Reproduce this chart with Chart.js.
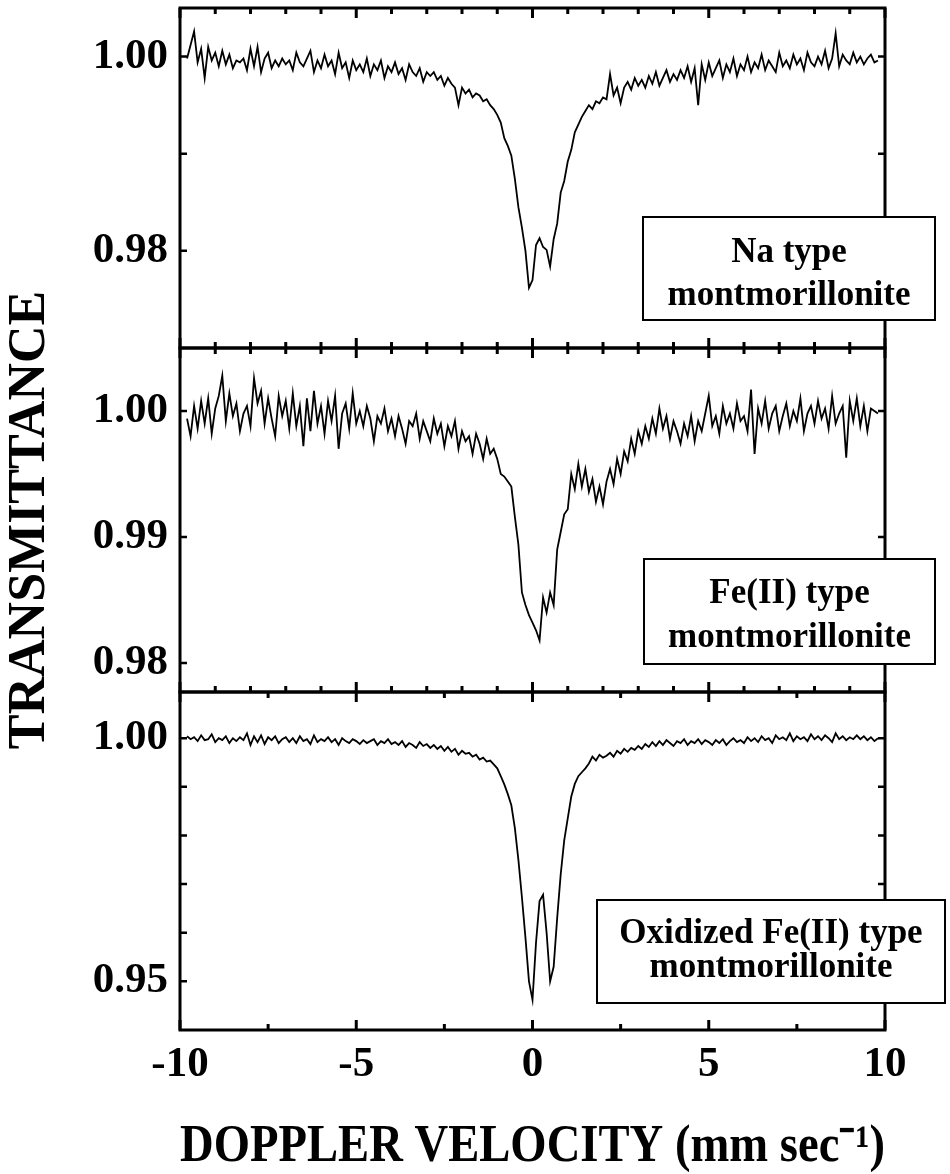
<!DOCTYPE html>
<html>
<head>
<meta charset="utf-8">
<script src="https://cdn.jsdelivr.net/npm/chart.js@4.4.1/dist/chart.umd.min.js"></script>
<style>
  html, body { margin: 0; padding: 0; background: #fff; }
  #wrap { position: relative; width: 950px; height: 1174px; }
  #wrap canvas { position: absolute; left: 0; top: 0; }
</style>
</head>
<body>
<div id="wrap">
  <canvas id="naChart" width="950" height="1174"></canvas>
  <canvas id="feChart" width="950" height="1174"></canvas>
  <canvas id="oxChart" width="950" height="1174"></canvas>
</div>
<script>
// Doppler velocity channels (mm/s)
var velocity = [
  -9.8, -9.7, -9.6, -9.5, -9.4, -9.3, -9.2, -9.1, -9.0, -8.9,
  -8.8, -8.7, -8.6, -8.5, -8.4, -8.3, -8.2, -8.1, -8.0, -7.9,
  -7.8, -7.7, -7.6, -7.5, -7.4, -7.3, -7.2, -7.1, -7.0, -6.9,
  -6.8, -6.7, -6.6, -6.5, -6.4, -6.3, -6.2, -6.1, -6.0, -5.9,
  -5.8, -5.7, -5.6, -5.5, -5.4, -5.3, -5.2, -5.1, -5.0, -4.9,
  -4.8, -4.7, -4.6, -4.5, -4.4, -4.3, -4.2, -4.1, -4.0, -3.9,
  -3.8, -3.7, -3.6, -3.5, -3.4, -3.3, -3.2, -3.1, -3.0, -2.9,
  -2.8, -2.7, -2.6, -2.5, -2.4, -2.3, -2.2, -2.1, -2.0, -1.9,
  -1.8, -1.7, -1.6, -1.5, -1.4, -1.3, -1.2, -1.1, -1.0, -0.9,
  -0.8, -0.7, -0.6, -0.5, -0.4, -0.3, -0.2, -0.1, 0.0, 0.1,
  0.2, 0.3, 0.4, 0.5, 0.6, 0.7, 0.8, 0.9, 1.0, 1.1,
  1.2, 1.3, 1.4, 1.5, 1.6, 1.7, 1.8, 1.9, 2.0, 2.1,
  2.2, 2.3, 2.4, 2.5, 2.6, 2.7, 2.8, 2.9, 3.0, 3.1,
  3.2, 3.3, 3.4, 3.5, 3.6, 3.7, 3.8, 3.9, 4.0, 4.1,
  4.2, 4.3, 4.4, 4.5, 4.6, 4.7, 4.8, 4.9, 5.0, 5.1,
  5.2, 5.3, 5.4, 5.5, 5.6, 5.7, 5.8, 5.9, 6.0, 6.1,
  6.2, 6.3, 6.4, 6.5, 6.6, 6.7, 6.8, 6.9, 7.0, 7.1,
  7.2, 7.3, 7.4, 7.5, 7.6, 7.7, 7.8, 7.9, 8.0, 8.1,
  8.2, 8.3, 8.4, 8.5, 8.6, 8.7, 8.8, 8.9, 9.0, 9.1,
  9.2, 9.3, 9.4, 9.5, 9.6, 9.7, 9.8
];

// Na type montmorillonite
var naTransmittance = [
  0.9998, 1.0012, 1.0026, 0.9994, 1.0008, 0.9978, 1.0010, 0.9996, 1.0004, 0.9990,
  1.0006, 0.9992, 1.0002, 0.9988, 0.9996, 0.9994, 0.9998, 0.9986, 1.0008, 0.9990,
  1.0010, 0.9984, 0.9998, 1.0004, 0.9988, 0.9996, 0.9990, 0.9998, 0.9992, 0.9996,
  0.9986, 1.0004, 0.9994, 0.9990, 0.9998, 1.0006, 0.9984, 0.9996, 0.9988, 1.0002,
  0.9990, 0.9996, 0.9982, 1.0004, 0.9988, 0.9994, 0.9978, 0.9996, 0.9986, 0.9992,
  0.9984, 0.9998, 0.9980, 0.9992, 0.9986, 0.9996, 0.9978, 0.9990, 0.9984, 0.9994,
  0.9982, 0.9988, 0.9976, 0.9992, 0.9984, 0.9980, 0.9988, 0.9974, 0.9984, 0.9980,
  0.9984, 0.9976, 0.9980, 0.9970, 0.9978, 0.9972, 0.9968, 0.9950, 0.9968, 0.9962,
  0.9966, 0.9958, 0.9962, 0.9960, 0.9954, 0.9956, 0.9950, 0.9946, 0.9940, 0.9932,
  0.9916, 0.9908, 0.9898, 0.9874, 0.9845, 0.9824, 0.9800, 0.9762, 0.9770, 0.9806,
  0.9813, 0.9804, 0.9801, 0.9784, 0.9812, 0.9828, 0.9860, 0.9872, 0.9892, 0.9904,
  0.9922, 0.9930, 0.9938, 0.9944, 0.9950, 0.9946, 0.9954, 0.9952, 0.9958, 0.9956,
  0.9982, 0.9960, 0.9968, 0.9952, 0.9968, 0.9974, 0.9966, 0.9978, 0.9970, 0.9976,
  0.9968, 0.9980, 0.9972, 0.9984, 0.9970, 0.9978, 0.9986, 0.9974, 0.9982, 0.9976,
  0.9986, 0.9978, 0.9990, 0.9974, 0.9988, 0.9950, 0.9992, 0.9976, 0.9994, 0.9980,
  0.9988, 0.9996, 0.9978, 0.9992, 0.9984, 0.9998, 0.9980, 0.9992, 0.9986, 1.0000,
  0.9984, 0.9994, 0.9988, 1.0002, 0.9986, 0.9996, 0.9990, 0.9984, 1.0004, 0.9990,
  0.9996, 0.9988, 1.0002, 0.9992, 0.9998, 0.9986, 1.0004, 0.9994, 0.9990, 1.0000,
  0.9992, 1.0006, 0.9988, 0.9998, 1.0024, 0.9990, 1.0002, 0.9996, 0.9992, 1.0004,
  0.9994, 1.0000, 0.9992, 0.9998, 1.0002, 0.9994, 0.9996
];

// Fe(II) type montmorillonite
var feTransmittance = [
  0.9994, 0.9980, 1.0004, 0.9986, 1.0008, 0.9990, 1.0010, 0.9982, 1.0002, 1.0012,
  1.0028, 0.9992, 1.0014, 0.9996, 1.0006, 0.9984, 0.9998, 1.0004, 0.9988, 1.0026,
  1.0006, 1.0016, 0.9990, 1.0010, 0.9994, 0.9980, 1.0012, 0.9996, 1.0008, 0.9986,
  1.0014, 0.9988, 1.0004, 0.9972, 1.0010, 0.9984, 1.0016, 0.9990, 1.0004, 0.9982,
  1.0008, 0.9992, 1.0012, 0.9970, 0.9998, 1.0006, 0.9986, 1.0014, 0.9990, 1.0000,
  0.9988, 1.0004, 0.9994, 0.9976, 0.9996, 0.9990, 1.0002, 0.9984, 0.9994, 0.9980,
  0.9996, 0.9986, 0.9974, 0.9992, 0.9988, 0.9998, 0.9978, 0.9992, 0.9984, 0.9976,
  0.9994, 0.9982, 0.9990, 0.9972, 0.9988, 0.9980, 0.9992, 0.9970, 0.9984, 0.9976,
  0.9980, 0.9966, 0.9982, 0.9974, 0.9962, 0.9978, 0.9966, 0.9970, 0.9962, 0.9950,
  0.9948, 0.9944, 0.9940, 0.9916, 0.9894, 0.9856, 0.9846, 0.9838, 0.9832, 0.9826,
  0.9818, 0.9852, 0.9840, 0.9856, 0.9846, 0.9890, 0.9904, 0.9918, 0.9922, 0.9950,
  0.9938, 0.9958, 0.9940, 0.9954, 0.9936, 0.9946, 0.9928, 0.9940, 0.9926, 0.9944,
  0.9954, 0.9942, 0.9962, 0.9950, 0.9968, 0.9960, 0.9978, 0.9966, 0.9984, 0.9974,
  0.9988, 0.9978, 0.9994, 0.9982, 1.0002, 0.9986, 0.9996, 0.9978, 0.9992, 0.9984,
  0.9974, 0.9990, 0.9980, 0.9996, 0.9976, 0.9992, 0.9984, 0.9998, 1.0012, 0.9988,
  0.9996, 0.9982, 1.0004, 0.9990, 0.9998, 0.9986, 1.0006, 0.9992, 0.9996, 0.9984,
  1.0017, 0.9966, 1.0002, 0.9990, 1.0008, 0.9986, 0.9998, 1.0004, 0.9984, 0.9996,
  1.0006, 0.9988, 1.0000, 0.9992, 1.0010, 0.9984, 0.9998, 1.0004, 0.9990, 1.0008,
  0.9994, 1.0002, 0.9986, 1.0012, 0.9990, 0.9998, 1.0004, 0.9963, 1.0008, 0.9992,
  1.0010, 0.9988, 1.0004, 0.9984, 1.0002, 1.0000, 0.9998
];

// Oxidized Fe(II) type montmorillonite
var oxTransmittance = [
  1.0004, 0.9998, 1.0002, 0.9994, 1.0006, 0.9996, 0.9998, 1.0008, 0.9992, 1.0000,
  0.9996, 1.0004, 0.9990, 1.0000, 0.9994, 1.0002, 0.9996, 1.0010, 0.9986, 1.0004,
  0.9992, 1.0006, 0.9988, 1.0002, 0.9996, 1.0004, 0.9990, 0.9998, 1.0002, 0.9992,
  1.0000, 0.9990, 1.0004, 0.9994, 0.9998, 0.9988, 1.0006, 0.9992, 0.9998, 0.9994,
  1.0002, 0.9992, 0.9998, 0.9986, 1.0000, 0.9994, 0.9990, 0.9998, 0.9994, 0.9988,
  0.9996, 0.9990, 0.9994, 0.9998, 0.9986, 0.9994, 0.9990, 0.9998, 0.9988, 0.9992,
  0.9986, 0.9994, 0.9982, 0.9990, 0.9986, 0.9980, 0.9992, 0.9984, 0.9988, 0.9980,
  0.9986, 0.9978, 0.9984, 0.9974, 0.9982, 0.9972, 0.9978, 0.9966, 0.9974, 0.9968,
  0.9970, 0.9962, 0.9966, 0.9956, 0.9960, 0.9952, 0.9954, 0.9946, 0.9938, 0.9922,
  0.9905, 0.9885, 0.9862, 0.9815, 0.9750, 0.9673, 0.9590, 0.9500, 0.9462, 0.9580,
  0.9665, 0.9678, 0.9600, 0.9500, 0.9530, 0.9630, 0.9720, 0.9790, 0.9835, 0.9880,
  0.9906, 0.9922, 0.9930, 0.9938, 0.9948, 0.9962, 0.9954, 0.9966, 0.9960, 0.9964,
  0.9970, 0.9962, 0.9974, 0.9968, 0.9978, 0.9972, 0.9980, 0.9976, 0.9984, 0.9978,
  0.9988, 0.9982, 0.9992, 0.9984, 0.9994, 0.9986, 0.9996, 0.9990, 0.9984, 0.9994,
  0.9990, 0.9998, 0.9986, 0.9994, 0.9990, 0.9998, 0.9988, 0.9996, 0.9992, 0.9986,
  0.9996, 0.9990, 0.9998, 0.9986, 0.9994, 1.0000, 0.9992, 0.9996, 0.9990, 1.0002,
  0.9994, 1.0000, 0.9992, 1.0004, 0.9996, 1.0000, 0.9990, 1.0006, 0.9998, 1.0002,
  0.9996, 1.0010, 0.9994, 1.0004, 0.9998, 1.0002, 0.9994, 1.0008, 0.9998, 1.0004,
  0.9996, 1.0006, 1.0000, 0.9992, 1.0010, 0.9998, 1.0004, 0.9996, 1.0002, 0.9998,
  1.0006, 0.9998, 1.0004, 0.9996, 1.0002, 0.9994, 1.0000
];

// axis ticks and labels
var naTicks = [0.98, 0.99, 1.00];
var naTickLabels = ['0.98', '1.00'];
var feTicks = [0.98, 0.99, 1.00];
var feTickLabels = ['0.98', '0.99', '1.00'];
var oxTicks = [0.95, 0.96, 0.97, 0.98, 0.99, 1.00];
var oxTickLabels = ['0.95', '1.00'];
var velocityMinorTicks = [-10, -9, -8, -7, -6, -5, -4, -3, -2, -1, 0, 1, 2, 3, 4, 5, 6, 7, 8, 9, 10];
var velocityTicks = [-10, -7.5, -5, -2.5, 0, 2.5, 5, 7.5, 10];
var velocityTickLabels = ['-10', '-5', '0', '5', '10'];

var sampleLabels = [
  ['Na type', 'montmorillonite'],
  ['Fe(II) type', 'montmorillonite'],
  ['Oxidized Fe(II) type', 'montmorillonite']
];

var FONT = "'Liberation Serif', 'Times New Roman', serif";
Chart.defaults.font.family = FONT;
Chart.defaults.color = '#000';

// frame, inward ticks and the sample label box
var frameTicks = {
  id: 'frameTicks',
  afterDraw: function(chart, args, o) {
    var ctx = chart.ctx;
    var a = chart.chartArea;
    var xs = chart.scales.x, ys = chart.scales.y;
    ctx.save();
    ctx.strokeStyle = '#000';
    ctx.lineCap = 'butt';
    ctx.lineWidth = 2.5;
    ys.ticks.forEach(function(t) {
      var py = ys.getPixelForValue(t.value);
      ctx.beginPath();
      ctx.moveTo(a.left, py); ctx.lineTo(a.left + 7, py);
      ctx.moveTo(a.right, py); ctx.lineTo(a.right - 7, py);
      ctx.stroke();
    });
    ctx.lineWidth = 3;
    o.xTicks.forEach(function(v) {
      var px = xs.getPixelForValue(v);
      var len = (v % 5 === 0) ? 10 : 6;
      ctx.beginPath();
      ctx.moveTo(px, a.top); ctx.lineTo(px, a.top + len);
      ctx.moveTo(px, a.bottom); ctx.lineTo(px, a.bottom - len);
      ctx.stroke();
    });
    ctx.strokeRect(a.left, a.top, a.right - a.left, a.bottom - a.top);

    var b = o.box;
    var bx = a.right + b.right - b.width;
    var by = a.bottom - b.bottom - b.height;
    ctx.fillStyle = '#fff';
    ctx.fillRect(bx, by, b.width, b.height);
    ctx.lineWidth = 2;
    ctx.strokeRect(bx, by, b.width, b.height);
    ctx.fillStyle = '#000';
    ctx.font = 'bold 35px ' + FONT;
    ctx.textAlign = 'center';
    ctx.textBaseline = 'alphabetic';
    b.lines.forEach(function(line, i) {
      ctx.fillText(line, bx + b.width / 2, by + b.baselines[i]);
    });
    ctx.restore();
  }
};

function toPoints(values) {
  return velocity.map(function(v, i) { return { x: v, y: values[i] }; });
}

function renderPanel(canvasId, values, cfg) {
  var ctx = document.getElementById(canvasId).getContext('2d');
  return new Chart(ctx, {
    type: 'line',
    data: {
      datasets: [{
        data: toPoints(values),
        borderColor: '#000',
        borderWidth: 1.8,
        pointRadius: 0,
        fill: false,
        tension: 0
      }]
    },
    options: {
      responsive: false,
      animation: false,
      devicePixelRatio: 1,
      layout: { padding: { top: cfg.padTop, bottom: cfg.padBottom, left: 0, right: 65 } },
      plugins: {
        legend: { display: false },
        tooltip: { enabled: false },
        frameTicks: { xTicks: cfg.xTicks, box: cfg.box }
      },
      scales: {
        x: {
          type: 'linear',
          min: -10,
          max: 10,
          display: cfg.showX,
          afterBuildTicks: function(s) {
            s.ticks = velocityTicks.map(function(v) { return { value: v }; });
          },
          afterFit: function(s) {
            if (cfg.showX) s.height = 144;
            s.paddingLeft = 0;
            s.paddingRight = 0;
          },
          grid: { display: false, drawTicks: false },
          border: { display: false },
          ticks: {
            padding: 9,
            maxRotation: 0,
            autoSkip: false,
            font: { size: 43, weight: 'bold' },
            callback: function(val) {
              var s = String(val);
              return velocityTickLabels.indexOf(s) >= 0 ? s : '';
            }
          },
          title: {
            display: true,
            text: 'DOPPLER VELOCITY (mm sec\u207B\u00B9)',
            font: { size: 52, weight: 'bold', lineHeight: 1 },
            padding: { top: 0, bottom: 0 }
          }
        },
        y: {
          type: 'linear',
          min: cfg.yMin,
          max: cfg.yMax,
          afterBuildTicks: function(s) {
            s.ticks = cfg.yTicks.map(function(v) { return { value: v }; });
          },
          afterFit: function(s) {
            s.width = 180;
            s.paddingTop = 0;
            s.paddingBottom = 0;
          },
          grid: { display: false, drawTicks: false },
          border: { display: false },
          ticks: {
            padding: 12,
            autoSkip: false,
            font: { size: 43, weight: 'bold' },
            callback: function(val) {
              var s = Number(val).toFixed(2);
              return cfg.yLabels.indexOf(s) >= 0 ? s : '';
            }
          },
          title: {
            display: cfg.yTitle,
            text: 'TRANSMITTANCE',
            font: { size: 52, weight: 'bold', lineHeight: 1 },
            padding: { top: 5, bottom: 0 }
          }
        }
      }
    },
    plugins: [frameTicks]
  });
}

renderPanel('naChart', naTransmittance, {
  padTop: 8, padBottom: 826, showX: false, yTitle: false,
  yMin: 0.97, yMax: 1.005, yTicks: naTicks, yLabels: naTickLabels,
  xTicks: velocityMinorTicks,
  box: { right: 50, width: 292, bottom: 28, height: 103, baselines: [45, 88], lines: sampleLabels[0] }
});

renderPanel('feChart', feTransmittance, {
  padTop: 348, padBottom: 482, showX: false, yTitle: true,
  yMin: 0.9777, yMax: 1.005, yTicks: feTicks, yLabels: feTickLabels,
  xTicks: velocityMinorTicks,
  box: { right: 50, width: 291, bottom: 28, height: 105, baselines: [44, 88], lines: sampleLabels[1] }
});

renderPanel('oxChart', oxTransmittance, {
  padTop: 692, padBottom: 0, showX: true, yTitle: false,
  yMin: 0.94, yMax: 1.0095, yTicks: oxTicks, yLabels: oxTickLabels,
  xTicks: velocityTicks,
  box: { right: 60, width: 348, bottom: 27, height: 103, baselines: [43, 77], lines: sampleLabels[2] }
});
</script>
</body>
</html>
